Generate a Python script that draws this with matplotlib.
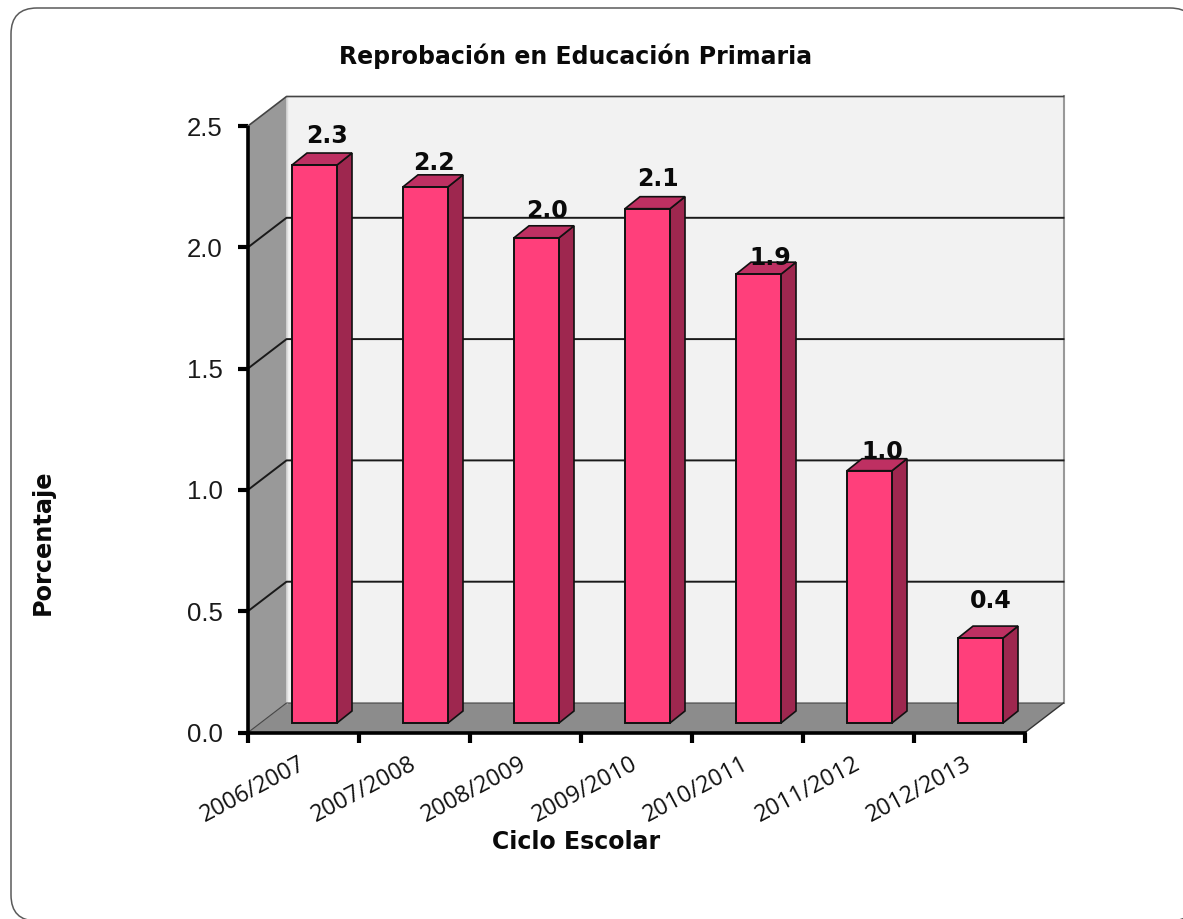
import matplotlib
matplotlib.use("Agg")
import matplotlib.pyplot as plt
from matplotlib.patches import FancyBboxPatch

title = "Reprobación en Educación Primaria"
xlabel = "Ciclo Escolar"
ylabel = "Porcentaje"
categories = ["2006/2007", "2007/2008", "2008/2009", "2009/2010", "2010/2011", "2011/2012", "2012/2013"]
values = [2.30, 2.21, 2.00, 2.12, 1.85, 1.04, 0.35]
value_labels = ["2.3", "2.2", "2.0", "2.1", "1.9", "1.0", "0.4"]
y_ticks = [0.0, 0.5, 1.0, 1.5, 2.0, 2.5]

# Styling / layout (pixels)
W, H = 1183, 919
AX_L, AX_R, AX_B, AX_T = 248, 1025, 732.5, 126
WALL_DX, WALL_DY = 38.5, 29.5
BAR_W, BAR_SHIFT, BAR_LIFT = 45, 11, 9.5
BAR_DX, BAR_DY = 15, 12
LABEL_DX = [13, 8, 10, 10, 12, 13, 10]
LABEL_DY = [29, 24, 27, 30, 16, 19, 37]
FRONT, SIDE, TOP = "#FF3F7B", "#9E274F", "#BE3062"

fig = plt.figure(figsize=(W / 100, H / 100), dpi=100, facecolor="white")

# rounded outer border, in pixels (runs off the right and bottom of the figure)
BORDER_L, BORDER_R, BORDER_T, BORDER_B, BORDER_RAD = 11, 1196, 8, 921, 26
border = FancyBboxPatch((BORDER_L, H - BORDER_B), BORDER_R - BORDER_L, BORDER_B - BORDER_T,
                        boxstyle=f"round,pad=0,rounding_size={BORDER_RAD}",
                        transform=None, fc="white", ec="#5a5a5a", lw=1.1, zorder=-10, clip_on=False)
fig.add_artist(border)

ax = fig.add_axes([AX_L / W, (H - AX_B) / H, (AX_R - AX_L) / W, (AX_B - AX_T) / H])
ax.set_xlim(0, len(categories))
ax.set_ylim(0, y_ticks[-1])
ax.patch.set_visible(False)
for s in ax.spines.values():
    s.set_visible(False)
sx = (AX_R - AX_L) / len(categories)
sy = (AX_B - AX_T) / y_ticks[-1]
n = len(categories)
ymax = y_ticks[-1]
wx, wy = WALL_DX / sx, WALL_DY / sy

kw = dict(clip_on=False)
# back wall, left wall, floor
ax.fill([wx, n + wx, n + wx, wx], [wy, wy, ymax + wy, ymax + wy], fc="#F2F2F2", ec="none", zorder=1, **kw)
ax.fill([0, wx, wx, 0], [0, wy, ymax + wy, ymax], fc="#999999", ec="none", zorder=1, **kw)
ax.fill([0, n, n + wx, wx], [0, 0, wy, wy], fc="#8C8C8C", ec="none", zorder=1, **kw)
ax.plot([n + wx, n + wx], [wy, ymax + wy], color="#999999", lw=1.5, zorder=2, **kw)
ax.plot([wx, wx], [wy, ymax + wy], color="#DDDDDD", lw=1.0, zorder=2, **kw)
ax.plot([n, n + wx], [0, wy], color="#333333", lw=1.0, zorder=2, **kw)
ax.plot([0, wx, n + wx], [ymax, ymax + wy, ymax + wy], color="#444444", lw=1.2, zorder=2, **kw)
# gridlines
for t in y_ticks[:-1]:
    ax.plot([0, wx, n + wx], [t, t + wy, t + wy], color="#1a1a1a" if t else "#444444",
            lw=1.4 if t else 0.8, zorder=2, **kw)

# bars
bw, shift, lift = BAR_W / sx, BAR_SHIFT / sx, BAR_LIFT / sy
dx, dy = BAR_DX / sx, BAR_DY / sy
for i, v in enumerate(values):
    x0 = i + 0.5 - bw / 2 + shift
    x1 = x0 + bw
    y0, y1 = lift, lift + v
    ax.bar(x0, v, bw, bottom=y0, align="edge", color=FRONT, edgecolor="#111111", lw=1.4, zorder=4, **kw)
    ax.fill([x1, x1 + dx, x1 + dx, x1], [y0, y0 + dy, y1 + dy, y1], fc=SIDE, ec="#111111", lw=1.2, zorder=3, **kw)
    ax.fill([x0, x1, x1 + dx, x0 + dx], [y1, y1, y1 + dy, y1 + dy], fc=TOP, ec="#111111", lw=1.2, zorder=3, **kw)
    ax.text(i + 0.5 + shift + LABEL_DX[i] / sx, y1 + LABEL_DY[i] / sy, value_labels[i], ha="center", va="center",
            fontsize=17, fontweight="bold", color="#0a0a0a", zorder=6, family="DejaVu Sans")

# front axes
ax.plot([0, 0], [0, ymax], color="black", lw=2.6, zorder=5, solid_capstyle="butt", **kw)
ax.plot([0, n], [0, 0], color="black", lw=2.6, zorder=5, solid_capstyle="projecting", **kw)
ax.set_xticks(range(n + 1))
ax.set_xticklabels([])
ax.set_yticks(y_ticks)
ax.set_yticklabels([f"{t:.1f}" for t in y_ticks], fontsize=18.5, color="#1a1a1a", family="Liberation Sans")
ax.tick_params(axis="both", length=7, width=3.0, color="black", zorder=5)
ax.tick_params(axis="y", pad=11)

# category labels
for i, c in enumerate(categories):
    ax.annotate(c, xy=(i + 1, 0), xytext=(-38, -25.5), textcoords="offset points", rotation=28,
                ha="right", va="baseline", rotation_mode="anchor", fontsize=16.8, color="#111111",
                family="Open Sans", annotation_clip=False)

fig.text(575.5 / W, 1 - 56 / H, title, ha="center", va="center", fontsize=17, fontweight="bold", color="#0a0a0a", family="DejaVu Sans")
fig.text(576 / W, 1 - 842 / H, xlabel, ha="center", va="center", fontsize=17, fontweight="bold", color="#0a0a0a", family="DejaVu Sans")
fig.text(43 / W, 1 - 542.5 / H, ylabel, ha="center", va="center", rotation=90, fontsize=17.3, fontweight="bold", color="#0a0a0a", family="DejaVu Sans")

fig.savefig("out.png", dpi=100)
